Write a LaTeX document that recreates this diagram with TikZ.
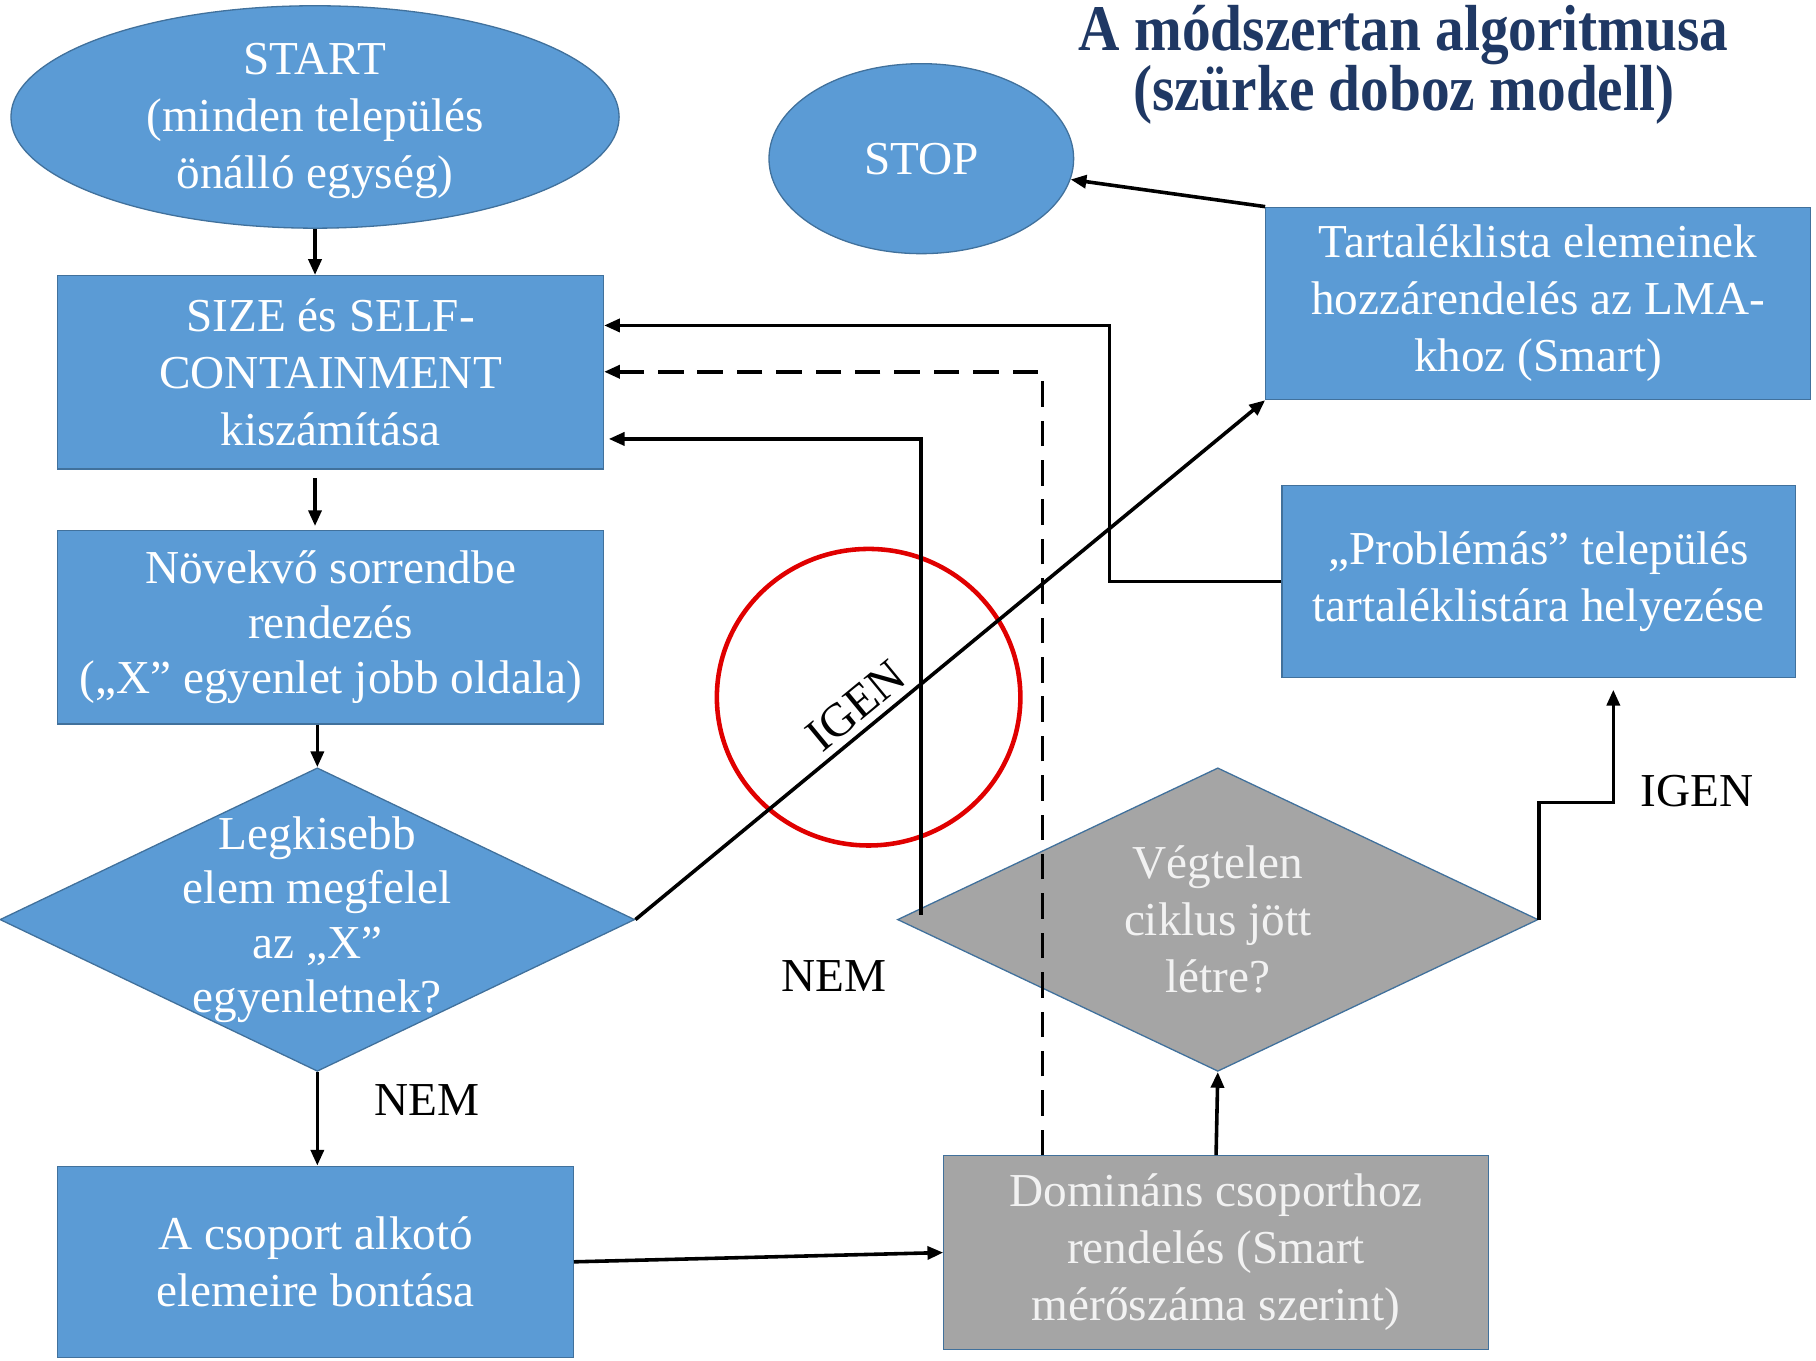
\documentclass[tikz,border=0pt]{standalone}
\usepackage{fontspec}
\setmainfont{Liberation Serif}
\newfontfamily\titlefont[FakeStretch=0.88]{Liberation Serif}
\usetikzlibrary{shapes.geometric,arrows.meta}
\definecolor{boxblue}{HTML}{5B9BD5}
\definecolor{boxedge}{HTML}{41719C}
\definecolor{boxgray}{HTML}{A5A5A5}
\definecolor{titleblue}{HTML}{1F3864}
\definecolor{ringred}{HTML}{E00000}
\definecolor{graytext}{HTML}{F2F2F2}
\begin{document}
\begin{tikzpicture}[x=0.025cm,y=-0.025cm,
  font=\fontsize{29}{35}\selectfont,
  bluebox/.style={rectangle, fill=boxblue, draw=boxedge, line width=0.8pt, text=white, align=center, inner sep=0pt},
  graybox/.style={rectangle, fill=boxgray, draw=boxedge, line width=0.8pt, text=graytext, align=center, inner sep=0pt},
  blueell/.style={ellipse, fill=boxblue, draw=boxedge, line width=0.8pt, inner sep=0pt},
  bluedia/.style={diamond, fill=boxblue, draw=boxedge, line width=0.8pt, inner sep=0pt},
  graydia/.style={diamond, fill=boxgray, draw=boxedge, line width=0.8pt, inner sep=0pt},
  arr/.style={line width=2.2pt, -{Triangle[length=0.34cm,width=0.28cm]}},
  plainlabel/.style={text=black, inner sep=0pt},
]
\useasboundingbox (0,0) rectangle (1568,1175);

% title
\node[font=\titlefont\bfseries\fontsize{40}{37}\selectfont, text=titleblue, align=center] (title) at (1212,56)
  {A módszertan  algoritmusa\\(szürke  doboz modell)};

% shapes
\node[blueell, minimum width=13.125cm, minimum height=4.8cm,
  label={[align=center,text=white,yshift=-0.08cm]center:{START\\(minden település\\önálló egység)}}] (start) at (272,101) {};
\node[blueell, minimum width=6.575cm, minimum height=4.1cm,
  label={[text=white]center:{STOP}}] (stop) at (795.5,137) {};
\node[bluebox, minimum width=11.775cm, minimum height=4.175cm] (size) at (285.5,321.5)
  {SIZE és SELF-\\CONTAINMENT\\kiszámítása};
\node[bluebox, minimum width=11.775cm, minimum height=4.175cm, font=\fontsize{29}{33.5}\selectfont] (nov) at (285.5,541.5)
  {Növekvő  sorrendbe\\rendezés\\(„X” egyenlet  jobb oldala)};
\node[bluedia, minimum width=13.7cm, minimum height=6.55cm,
  label={[align=center,text=white,font=\fontsize{29}{33.5}\selectfont]center:{Legkisebb\\elem  megfelel\\az „X”\\egyenletnek?}}] (d1) at (274,794) {};
\node[bluebox, minimum width=11.125cm, minimum height=4.125cm] (csop) at (272.5,1089.5)
  {A csoport alkotó\\elemeire bontása};
\node[graybox, minimum width=11.75cm, minimum height=4.175cm] (dom) at (1050,1081.5)
  {Domináns csoporthoz\\rendelés (Smart\\mérőszáma szerint)};
\node[graydia, minimum width=13.825cm, minimum height=6.55cm,
  label={[align=center,text=graytext]center:{Végtelen\\ciklus jött\\létre?}}] (d2) at (1051.5,794) {};
\node[bluebox, minimum width=11.75cm, minimum height=4.15cm] (tart) at (1328,262)
  {Tartaléklista elemeinek\\hozzárendelés az LMA-\\khoz (Smart)};
\node[bluebox, minimum width=11.075cm, minimum height=4.15cm] (prob) at (1328.5,502)
  {„Problémás” település\\tartaléklistára helyezése};

% red ring
\node[ellipse, draw=ringred, line width=2.8pt, minimum width=6.55cm, minimum height=6.4cm, inner sep=0pt] (ring) at (750,602) {};

% helper coordinates
\coordinate (k1) at (1393,693);
\coordinate (k2) at (958,281);
\coordinate (k3) at (900,321);
\coordinate (k4) at (795,379);
\coordinate (k5) at (795,790);

% connectors
\draw[arr] (start.south) -- (start.south |- size.north);
\draw[arr] ([yshift=-0.18cm]size.south -| start.south) -- ([yshift=0.08cm]start.south |- nov.north);
\draw[arr] (d1.north |- nov.south) -- (d1.north);
\draw[arr] (d1.south) -- node[plainlabel, right=1.2cm, pos=0.3] (nem1) {NEM} (d1.south |- csop.north);
\draw[arr] (csop.east) -- (dom.west);
\draw[arr] (dom.north) -- (d2.south);
\draw[arr] (d2.east) |- (k1) -- ([yshift=-0.25cm]prob.south -| k1);
\node[plainlabel] (igen2) at (1465,683) {IGEN};
\draw[arr] (prob.west) -| (k2) -- (k2 -| size.east);
\draw[arr, dash pattern=on 0.55cm off 0.3cm] (dom.north -| k3) -- (k3) -- (k3 -| size.east);
\draw[arr] (k5) -- (k4) -- ([xshift=0.1cm]k4 -| size.east);
\node[plainlabel] (nem2) at (720,843) {NEM};
\draw[arr] (d1.east) -- node[plainlabel, sloped, above=0.15cm, pos=0.375] (igen1) {IGEN} (tart.south west);
\draw[arr] (tart.north west) -- (stop);
\end{tikzpicture}
\end{document}
